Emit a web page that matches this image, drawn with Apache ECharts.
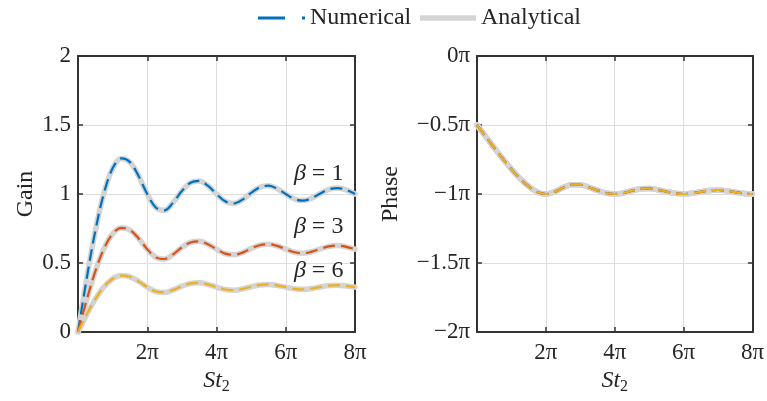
<!DOCTYPE html>
<html>
<head>
<meta charset="utf-8">
<script src="https://cdn.jsdelivr.net/npm/echarts@6/dist/echarts.min.js"></script>
<style>
  html, body { margin: 0; padding: 0; background: #fff; }
  #chart { width: 767px; height: 401px; }
</style>
</head>
<body>
<div id="chart"></div>
<script>
// Frequency axis St_2, in multiples of pi
const st2 = [0, 0.25, 0.5, 0.75, 1, 1.25, 1.5, 1.75, 2, 2.25, 2.5, 2.75, 3, 3.25, 3.5, 3.75,
             4, 4.25, 4.5, 4.75, 5, 5.25, 5.5, 5.75, 6, 6.25, 6.5, 6.75, 7, 7.25, 7.5, 7.75, 8];

// Gain for beta = 1, 3, 6
const gainBeta1 = [0, 0.386, 0.733, 1.007, 1.186, 1.258, 1.231, 1.130, 1.000, 0.901, 0.882, 0.939,
                   1.022, 1.082, 1.095, 1.060, 1.000, 0.947, 0.932, 0.959, 1.008, 1.048, 1.060,
                   1.039, 1.000, 0.964, 0.952, 0.970, 1.004, 1.034, 1.043, 1.029, 1.000];
const gainBeta3 = [0, 0.232, 0.440, 0.604, 0.711, 0.755, 0.739, 0.678, 0.600, 0.541, 0.529, 0.563,
                   0.613, 0.649, 0.657, 0.636, 0.600, 0.568, 0.559, 0.575, 0.605, 0.629, 0.636,
                   0.624, 0.600, 0.578, 0.571, 0.582, 0.602, 0.620, 0.626, 0.617, 0.600];
const gainBeta6 = [0, 0.126, 0.238, 0.327, 0.386, 0.409, 0.400, 0.367, 0.325, 0.293, 0.287, 0.305,
                   0.332, 0.352, 0.356, 0.345, 0.325, 0.308, 0.303, 0.312, 0.328, 0.341, 0.345,
                   0.338, 0.325, 0.313, 0.309, 0.315, 0.326, 0.336, 0.339, 0.334, 0.325];

// Phase in multiples of pi (identical for every beta)
const phase = [-0.5, -0.583, -0.665, -0.745, -0.820, -0.888, -0.945, -0.985, -1.000, -0.985,
               -0.954, -0.933, -0.933, -0.951, -0.974, -0.993, -1.000, -0.993, -0.976, -0.962,
               -0.960, -0.969, -0.983, -0.995, -1.000, -0.995, -0.984, -0.974, -0.971, -0.977,
               -0.987, -0.996, -1.000];

// Curve labels: [St2, gain, beta]
const betaLabels = [[6.95, 1.145, 1], [6.95, 0.761, 3], [6.95, 0.443, 6]];

const xTicks = [0, 2, 4, 6, 8];

const FONT = '"Liberation Serif", "Times New Roman", serif';
const INK = '#262626';
const FRAME = '#333333';
const GRIDLINE = '#dedede';
const GRAY = '#d4d4d4';
const COLORS = ['#0072BD', '#D95319', '#EDB120'];
const DASH = [12, 6];

const pair = (xs, ys) => xs.map((x, i) => [x, ys[i]]);

function xAxisFor(gridIndex, bottom) {
  return {
    type: 'value', gridIndex, position: bottom ? 'bottom' : 'top',
    min: xTicks[0], max: xTicks[xTicks.length - 1], interval: 2,
    axisLine: { show: true, onZero: false, lineStyle: { color: FRAME, width: 2 } },
    axisTick: { show: true, inside: true, length: 5, lineStyle: { color: FRAME, width: 1.5 } },
    axisLabel: bottom ? {
      show: true, margin: 9, color: INK, fontFamily: FONT, fontSize: 23,
      formatter: v => (v === 0 ? '' : v + 'π')
    } : { show: false },
    splitLine: { show: bottom, lineStyle: { color: GRIDLINE, width: 1 } },
    name: bottom ? '{it|St}{sub|2}' : '',
    nameLocation: 'middle', nameGap: 30,
    nameTextStyle: {
      rich: {
        it: { fontFamily: FONT, fontStyle: 'italic', fontSize: 24, color: INK },
        sub: { fontFamily: FONT, fontSize: 16, color: INK, padding: [12, 0, 0, 0] }
      }
    }
  };
}

function yAxisFor(gridIndex, left, min, max, fmt, name, gap) {
  return {
    type: 'value', gridIndex, position: left ? 'left' : 'right',
    min, max, interval: 0.5,
    axisLine: { show: true, onZero: false, lineStyle: { color: FRAME, width: 2 } },
    axisTick: { show: true, inside: true, length: 5, lineStyle: { color: FRAME, width: 1.5 } },
    axisLabel: left ? { show: true, margin: 7, color: INK, fontFamily: FONT, fontSize: 23, formatter: fmt } : { show: false },
    splitLine: { show: left, lineStyle: { color: GRIDLINE, width: 1 } },
    name: left ? name : '',
    nameLocation: 'middle', nameGap: gap, nameRotate: 90,
    nameTextStyle: { fontFamily: FONT, fontSize: 24, color: INK }
  };
}

const phaseFmt = v => (v === 0 ? '0π' : '−' + Math.abs(v) + 'π');

const analytical = (data, xi, yi) => ({
  name: 'Analytical', type: 'line', xAxisIndex: xi, yAxisIndex: yi, data,
  smooth: 0.35, symbol: 'none', z: 2, silent: true,
  lineStyle: { color: GRAY, width: 5.5, cap: 'round' }, itemStyle: { color: GRAY }
});
const numerical = (data, xi, yi, color) => ({
  name: 'Numerical', type: 'line', xAxisIndex: xi, yAxisIndex: yi, data,
  smooth: 0.35, symbol: 'none', z: 3, silent: true,
  lineStyle: { color, width: 2.2, type: DASH }, itemStyle: { color }
});

const gains = [gainBeta1, gainBeta3, gainBeta6];

const series = [];
gains.forEach(g => series.push(analytical(pair(st2, g), 0, 0)));
gains.forEach((g, i) => series.push(numerical(pair(st2, g), 0, 0, COLORS[i])));
[0, 1, 2].forEach(() => series.push(analytical(pair(st2, phase), 2, 2)));
[0, 1, 2].forEach(i => series.push(numerical(pair(st2, phase), 2, 2, COLORS[i])));

// beta annotations next to each gain curve
series.push({
  type: 'scatter', xAxisIndex: 0, yAxisIndex: 0, symbolSize: 0, silent: true, z: 5,
  itemStyle: { opacity: 1 },
  data: betaLabels.map(d => ({ value: [d[0], d[1]], beta: d[2] })),
  label: {
    show: true, position: 'inside', opacity: 1, color: INK,
    formatter: p => '{b|β}{t| = ' + p.data.beta + '}',
    rich: {
      b: { fontFamily: FONT, fontStyle: 'italic', fontSize: 24, color: INK },
      t: { fontFamily: FONT, fontSize: 24, color: INK }
    }
  }
});

const option = {
  animation: false,
  backgroundColor: '#ffffff',
  grid: [
    { left: 78, top: 56, width: 277, height: 276 },
    { left: 78, top: 56, width: 277, height: 276 },
    { left: 477, top: 56, width: 276, height: 276 },
    { left: 477, top: 56, width: 276, height: 276 }
  ],
  legend: [
    {
      left: 253, top: 1, itemWidth: 47, itemHeight: 3, itemGap: 10,
      textStyle: { fontFamily: FONT, fontSize: 24, color: INK },
      icon: 'path://M0,0H27V3H0ZM44,0H47V3H44Z',
      itemStyle: { color: COLORS[0] },
      data: ['Numerical']
    },
    {
      left: 415, top: 1, itemWidth: 56, itemHeight: 5.5, itemGap: 10,
      textStyle: { fontFamily: FONT, fontSize: 24, color: INK },
      icon: 'rect',
      itemStyle: { color: GRAY },
      data: ['Analytical']
    }
  ],
  xAxis: [xAxisFor(0, true), xAxisFor(1, false), xAxisFor(2, true), xAxisFor(3, false)],
  yAxis: [
    yAxisFor(0, true, 0, 2, v => String(v), 'Gain', 40),
    yAxisFor(1, false, 0, 2, null, '', 0),
    yAxisFor(2, true, -2, 0, phaseFmt, 'Phase', 74),
    yAxisFor(3, false, -2, 0, null, '', 0)
  ],
  series
};

const chart = echarts.init(document.getElementById('chart'), null, { renderer: 'canvas' });
chart.setOption(option);
</script>
</body>
</html>
